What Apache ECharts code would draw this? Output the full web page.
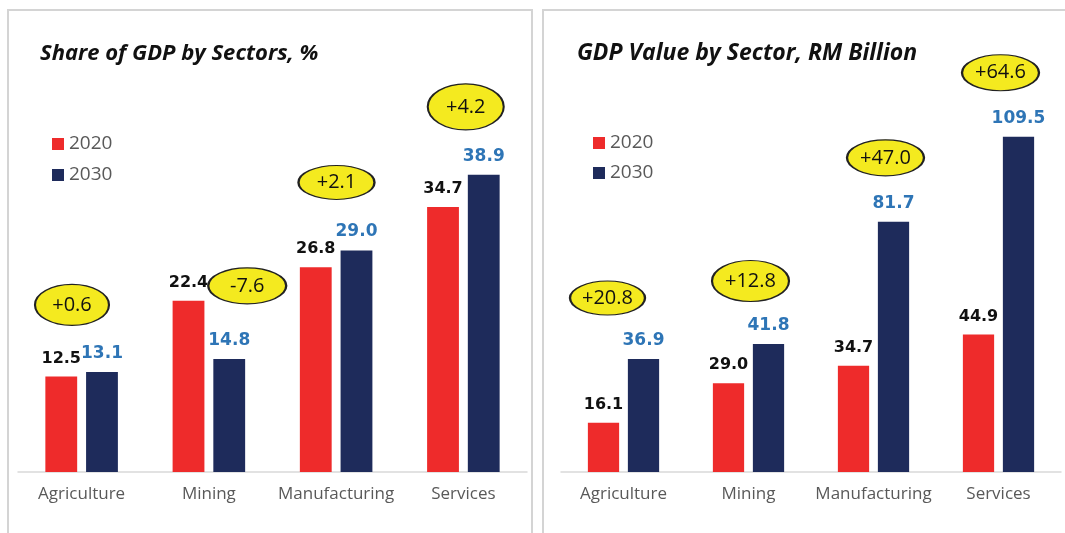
<!DOCTYPE html>
<html>
<head>
<meta charset="utf-8">
<script src="https://cdn.jsdelivr.net/npm/echarts@6/dist/echarts.min.js"></script>
<style>
html,body{margin:0;padding:0;background:#fff;}
#main{width:1065px;height:533px;}
</style>
</head>
<body>
<div id="main"></div>
<script>
// ---- data ----
const categories = ['Agriculture', 'Mining', 'Manufacturing', 'Services'];
const shareTitle = 'Share of GDP by Sectors, %';
const share2020 = [12.5, 22.4, 26.8, 34.7];
const share2030 = [13.1, 14.8, 29.0, 38.9];
const shareChange = ['+0.6', '-7.6', '+2.1', '+4.2'];
const valueTitle = 'GDP Value by Sector, RM Billion';
const value2020 = [16.1, 29.0, 34.7, 44.9];
const value2030 = [36.9, 41.8, 81.7, 109.5];
const valueChange = ['+20.8', '+12.8', '+47.0', '+64.6'];
const seriesNames = ['2020', '2030'];

// ---- styles ----
const RED = '#EE2B2B', NAVY = '#1E2B5B', BLUE = '#2E75B6', GRAY = '#595959';
const YELLOW = '#F4EA1F';
const numFont = 'DejaVu Sans';
const txtFont = 'Open Sans';

// badge layout (pixel offsets from the top of the taller 2030-series bar position)
const shareBadgeLayout = [
  {dx: -30, dy: -67, w: 74, h: 41},
  {dx: 18, dy: -15, w: 78, h: 36},
  {dx: -20, dy: -68, w: 76, h: 34},
  {dx: -18, dy: -68, w: 76, h: 46}
];
const valueBadgeLayout = [
  {dx: -36, dy: -61, w: 75, h: 34},
  {dx: -18, dy: -63, w: 77, h: 41},
  {dx: -8, dy: -64, w: 77, h: 36},
  {dx: -18, dy: -64, w: 77, h: 36}
];

function badges(a, b, labels, layout) {
  return {
    silent: true,
    animation: false,
    data: labels.map((t, i) => ({
      coord: [i, Math.max(a[i], b[i])],
      symbol: 'circle',
      symbolSize: [layout[i].w, layout[i].h],
      symbolOffset: [layout[i].dx, layout[i].dy],
      value: t,
      label: {show: true, formatter: t, position: 'inside',
        fontFamily: txtFont, fontSize: 20, color: '#111'},
      itemStyle: {color: YELLOW, borderColor: '#222', borderWidth: 1.6}
    }))
  };
}

function barSeries(name, data, idx, color, labelColor, labelSize, mark) {
  const s = {
    name: name,
    type: 'bar',
    xAxisIndex: idx,
    yAxisIndex: idx,
    data: data,
    barWidth: '25%',
    barGap: '28%',
    itemStyle: {color: color},
    label: {show: true, position: 'top', distance: 10,
      formatter: p => p.value.toFixed(1),
      fontFamily: numFont, fontWeight: 'bold', fontSize: labelSize, color: labelColor},
    animation: false
  };
  if (mark) s.markPoint = mark;
  return s;
}

const chart = echarts.init(document.getElementById('main'), null, {renderer: 'canvas'});

const xAxisBase = {
  type: 'category',
  data: categories,
  axisLine: {lineStyle: {color: '#D9D9D9', width: 1.5}},
  axisTick: {show: false},
  axisLabel: {interval: 0, color: GRAY, fontFamily: txtFont, fontSize: 17, margin: 14}
};
const yAxisBase = {type: 'value', min: 0, show: false, splitLine: {show: false}};

const option = {
  backgroundColor: '#fff',
  graphic: [
    {type: 'rect', shape: {x: 8, y: 10, width: 524, height: 540},
      style: {fill: 'none', stroke: '#D4D4D4', lineWidth: 2}, silent: true},
    {type: 'rect', shape: {x: 543, y: 10, width: 540, height: 540},
      style: {fill: 'none', stroke: '#D4D4D4', lineWidth: 2}, silent: true}
  ],
  title: [
    {text: shareTitle, left: 35, top: 38,
      textStyle: {fontFamily: txtFont, fontStyle: 'italic', fontWeight: 'bold', fontSize: 22, color: '#111'}},
    {text: valueTitle, left: 572, top: 37,
      textStyle: {fontFamily: txtFont, fontStyle: 'italic', fontWeight: 'bold', fontSize: 23, color: '#111'}}
  ],
  legend: [
    {data: seriesNames, orient: 'vertical', left: 47, top: 129, icon: 'rect',
      itemWidth: 12, itemHeight: 12, itemGap: 11,
      textStyle: {color: GRAY, fontFamily: txtFont, fontSize: 19, lineHeight: 20},
      selectedMode: false},
    {data: seriesNames, orient: 'vertical', left: 588, top: 128, icon: 'rect',
      itemWidth: 12, itemHeight: 12, itemGap: 10,
      textStyle: {color: GRAY, fontFamily: txtFont, fontSize: 19, lineHeight: 20},
      selectedMode: false}
  ],
  grid: [
    {left: 18, width: 509, top: 90, bottom: 61},
    {left: 561, width: 500, top: 74, bottom: 61}
  ],
  xAxis: [
    Object.assign({gridIndex: 0}, xAxisBase),
    Object.assign({gridIndex: 1}, xAxisBase)
  ],
  yAxis: [
    Object.assign({gridIndex: 0, max: 50}, yAxisBase),
    Object.assign({gridIndex: 1, max: 130}, yAxisBase)
  ],
  series: [
    barSeries(seriesNames[0], share2020, 0, RED, '#111', 16, null),
    barSeries(seriesNames[1], share2030, 0, NAVY, BLUE, 17, badges(share2020, share2030, shareChange, shareBadgeLayout)),
    barSeries(seriesNames[0], value2020, 1, RED, '#111', 16, null),
    barSeries(seriesNames[1], value2030, 1, NAVY, BLUE, 17, badges(value2020, value2030, valueChange, valueBadgeLayout))
  ]
};
chart.setOption(option);
</script>
</body>
</html>
